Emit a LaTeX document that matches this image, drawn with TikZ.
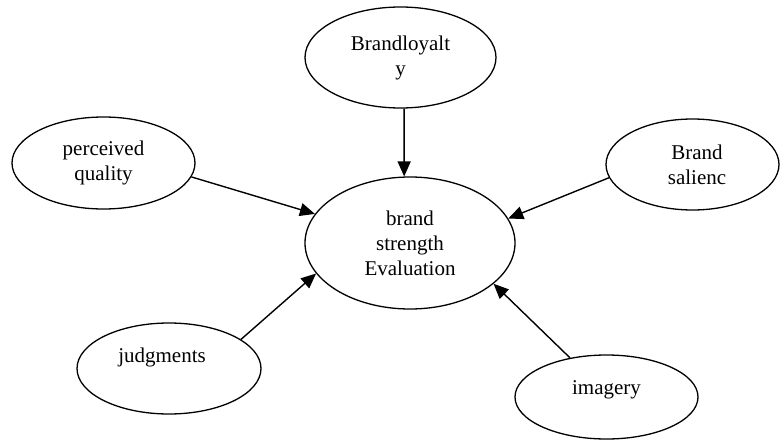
\documentclass[tikz,border=0pt]{standalone}
\usepackage{fontspec}
\setmainfont{Liberation Serif}
\usetikzlibrary{shapes.geometric,arrows.meta}
\begin{document}
\begin{tikzpicture}[x=1pt,y=-1pt,
  bub/.style={draw, ellipse, line width=1.3pt, inner sep=0pt,
    font=\fontsize{21}{25}\selectfont, align=center},
  lbl/.style={inner sep=0pt, font=\fontsize{21}{25}\selectfont},
  arr/.style={line width=1.4pt, -{Triangle[length=15pt,width=13pt]}}]
\useasboundingbox (0,0) rectangle (781,441);
\node[bub, minimum width=191pt, minimum height=101pt] (tl) at (400.5,57.5) {Brandloyalt\\y};
\node[bub, minimum width=183pt, minimum height=92pt] (pq) at (103.5,163) {perceived\\quality};
\node[bub, minimum width=173pt, minimum height=91pt] (bs) at (692.5,164.5) {\hspace*{9pt}Brand\\\hspace*{9pt}salienc};
\node[bub, minimum width=210pt, minimum height=132pt] (ce) at (410,243) {brand\\strength\\Evaluation};
\node[bub, minimum width=184pt, minimum height=91pt] (jd) at (169,368.5) {};
\node[lbl] (jdt) at (162,357) {judgments};
\node[bub, minimum width=183pt, minimum height=84pt] (im) at (606.5,397) {};
\node[lbl] (imt) at (606.5,390) {imagery};
\draw[arr] (tl.-86) -- (ce.95);
\draw[arr] (pq.-9.5) -- (ce.163.6);
\draw[arr] (bs.-171.1) -- (ce.14.3);
\draw[arr] (jd.22.6) -- (ce.-162.5);
\draw[arr] (im.133.2) -- (ce.-26);
\end{tikzpicture}
\end{document}
